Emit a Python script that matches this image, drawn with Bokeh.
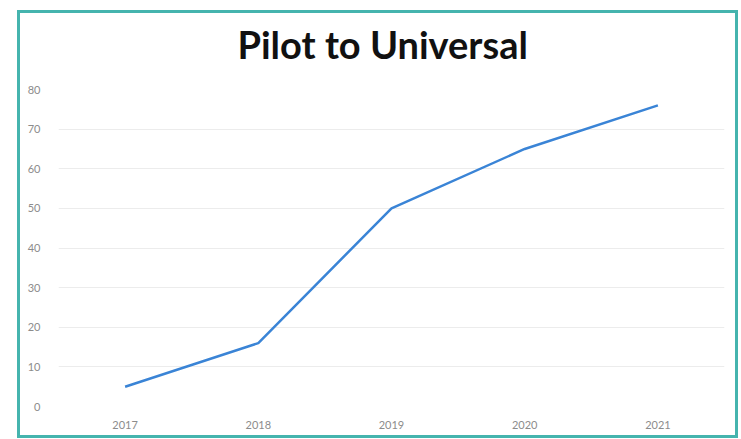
from bokeh.plotting import figure
from bokeh.embed import file_html
from bokeh.resources import INLINE
from bokeh.models import Range1d, FixedTicker, Title

years = ["2017", "2018", "2019", "2020", "2021"]
values = [5, 16, 50, 65, 76]
y_ticks = [0, 10, 20, 30, 40, 50, 60, 70, 80]

p = figure(x_range=years, y_range=Range1d(0, 80), width=715, height=422,
           output_backend="svg", toolbar_location=None,
           min_border_left=38, min_border_right=11, min_border_top=75, min_border_bottom=29)
p.margin = (13, 0, 0, 20)
p.styles = {"outline": "3px solid #45b4ae", "outline-offset": "0px"}

p.line(years, values, line_color="#3a84d6", line_width=2.5)

p.add_layout(Title(text=" ", text_font_size="5px"), "above")
p.title.text = "Pilot to Universal"
p.title.align = "left"
p.title.offset = 179
p.title.text_font = "Lato"
p.title.text_font_size = "38px"
p.title.text_color = "#111111"

p.outline_line_color = None
for ax in (p.xaxis[0], p.yaxis[0]):
    ax.axis_line_color = None
    ax.major_tick_line_color = None
    ax.minor_tick_line_color = None
    ax.major_label_text_color = "#8c8c8c"
    ax.major_label_text_font = "Lato"
    ax.major_label_text_font_size = "11px"
p.yaxis.major_label_standoff = 12
p.xaxis.major_label_standoff = 8
p.yaxis.ticker = FixedTicker(ticks=y_ticks)
p.xgrid.grid_line_color = None
p.ygrid.grid_line_color = "#ececec"
p.ygrid.grid_line_width = 1

open("out.html", "w").write(file_html(p, INLINE))
